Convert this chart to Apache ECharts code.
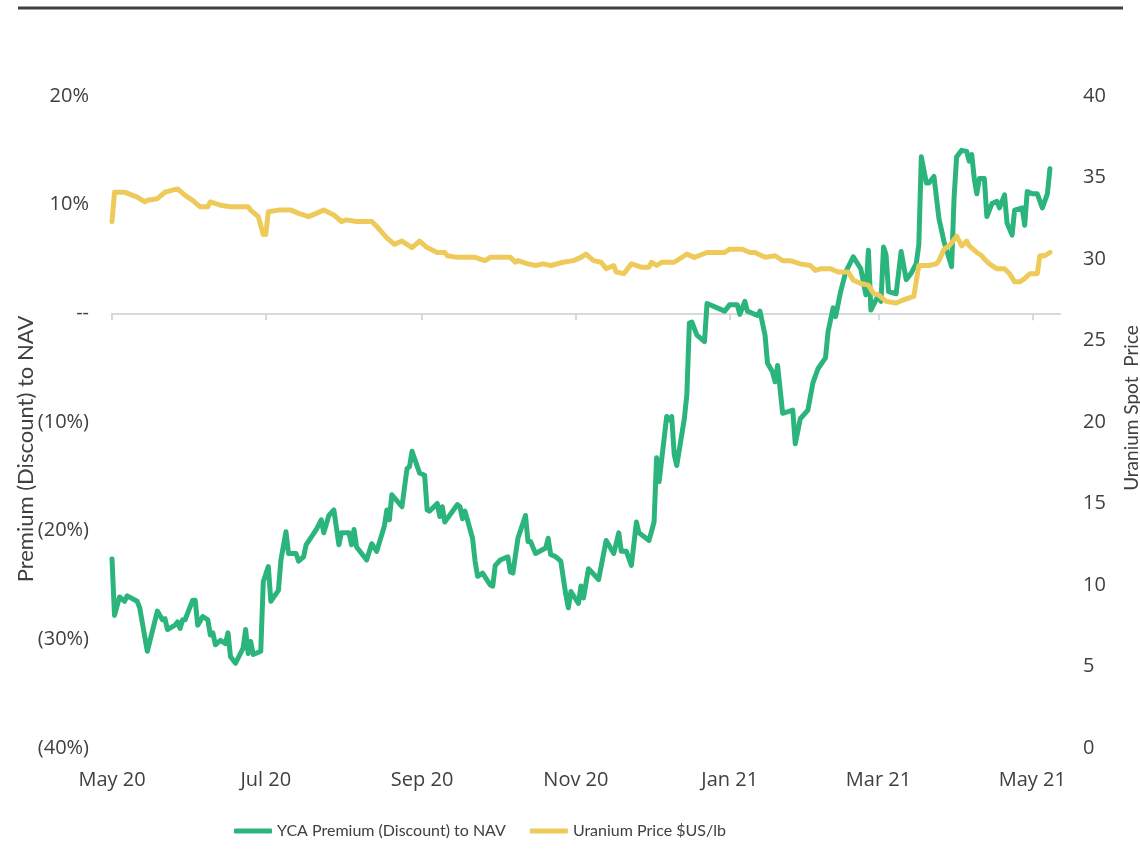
<!DOCTYPE html>
<html>
<head>
<meta charset="utf-8">
<script src="https://cdn.jsdelivr.net/npm/echarts@6/dist/echarts.min.js"></script>
<style>html,body{margin:0;padding:0;background:#fff}#chart{width:1140px;height:865px}</style>
</head>
<body>
<div id="chart"></div>
<script>
// ---- Data ----
const premiumDates = ['2020-05-01','2020-05-02','2020-05-04','2020-05-06','2020-05-07','2020-05-11','2020-05-12','2020-05-15','2020-05-19','2020-05-21','2020-05-22','2020-05-23','2020-05-26','2020-05-27','2020-05-28','2020-05-29','2020-05-30',
'2020-06-02','2020-06-03','2020-06-04','2020-06-06','2020-06-08','2020-06-09','2020-06-10','2020-06-11','2020-06-13','2020-06-15','2020-06-16','2020-06-17','2020-06-19','2020-06-22','2020-06-23','2020-06-24','2020-06-25','2020-06-26','2020-06-29','2020-06-30',
'2020-07-02','2020-07-03','2020-07-06','2020-07-07','2020-07-09','2020-07-10','2020-07-13','2020-07-14','2020-07-16','2020-07-17','2020-07-21','2020-07-23','2020-07-24','2020-07-26','2020-07-28','2020-07-30','2020-07-31',
'2020-08-03','2020-08-04','2020-08-05','2020-08-06','2020-08-10','2020-08-12','2020-08-14','2020-08-17','2020-08-18','2020-08-19','2020-08-20','2020-08-24','2020-08-26','2020-08-27','2020-08-28','2020-08-31',
'2020-09-02','2020-09-03','2020-09-04','2020-09-07','2020-09-08','2020-09-09','2020-09-10','2020-09-15','2020-09-16','2020-09-17','2020-09-18','2020-09-21','2020-09-22','2020-09-23','2020-09-25','2020-09-28','2020-09-29','2020-09-30',
'2020-10-02','2020-10-05','2020-10-06','2020-10-07','2020-10-09','2020-10-12','2020-10-13','2020-10-14','2020-10-16','2020-10-20','2020-10-21','2020-10-22','2020-10-24','2020-10-26','2020-10-28','2020-10-29','2020-10-30',
'2020-11-02','2020-11-03','2020-11-04','2020-11-06','2020-11-10','2020-11-13','2020-11-16','2020-11-18','2020-11-19','2020-11-21','2020-11-23','2020-11-25','2020-11-26','2020-11-30',
'2020-12-02','2020-12-03','2020-12-04','2020-12-07','2020-12-08','2020-12-09','2020-12-10','2020-12-11','2020-12-14','2020-12-15','2020-12-16','2020-12-17','2020-12-19','2020-12-22','2020-12-23','2020-12-30',
'2021-01-01','2021-01-04','2021-01-05','2021-01-07','2021-01-08','2021-01-12','2021-01-13','2021-01-15','2021-01-16','2021-01-18','2021-01-19','2021-01-20','2021-01-22','2021-01-26','2021-01-27','2021-01-29',
'2021-02-01','2021-02-03','2021-02-05','2021-02-08','2021-02-09','2021-02-11','2021-02-12','2021-02-14','2021-02-16','2021-02-19','2021-02-22','2021-02-24','2021-02-25','2021-02-26',
'2021-03-01','2021-03-02','2021-03-03','2021-03-04','2021-03-05','2021-03-08','2021-03-10','2021-03-12','2021-03-14','2021-03-16','2021-03-17','2021-03-18','2021-03-20','2021-03-21','2021-03-23','2021-03-25','2021-03-27','2021-03-30','2021-03-31',
'2021-04-01','2021-04-03','2021-04-05','2021-04-06','2021-04-07','2021-04-08','2021-04-09','2021-04-10','2021-04-12','2021-04-13','2021-04-15','2021-04-17','2021-04-18','2021-04-20','2021-04-21','2021-04-23','2021-04-24','2021-04-27','2021-04-28','2021-04-29',
'2021-05-01','2021-05-03','2021-05-05','2021-05-07','2021-05-08'];
const premiumValues = [-22.6,-27.8,-26.1,-26.5,-26.0,-26.5,-27.1,-31.1,-27.4,-28.2,-28.1,-29.1,-28.7,-28.4,-29.0,-28.2,-28.2,
-26.4,-26.4,-28.7,-27.9,-28.2,-29.6,-29.4,-30.5,-30.1,-30.4,-29.4,-31.6,-32.2,-30.8,-29.1,-31.3,-30.2,-31.4,-31.1,-24.7,
-23.3,-26.5,-25.5,-22.7,-20.1,-22.1,-22.1,-22.8,-22.4,-21.3,-19.9,-19.0,-20.2,-18.6,-18.1,-21.3,-20.2,
-20.2,-21.3,-19.9,-21.5,-22.7,-21.2,-21.9,-19.6,-18.1,-19.0,-16.7,-17.8,-14.3,-14.1,-12.7,-14.7,
-14.9,-18.1,-18.2,-17.5,-18.7,-17.8,-19.2,-17.6,-17.8,-18.9,-18.2,-20.7,-22.8,-24.2,-23.9,-25.0,-25.1,-23.2,
-22.7,-22.4,-23.8,-23.9,-20.7,-18.6,-21.0,-21.0,-22.1,-21.6,-20.7,-22.2,-22.4,-22.8,-25.9,-27.1,-25.6,
-26.7,-25.1,-26.2,-23.5,-24.5,-20.9,-22.1,-20.2,-21.9,-21.9,-23.2,-19.2,-20.2,-20.9,
-19.2,-13.3,-15.5,-9.5,-9.8,-9.5,-13.0,-14.0,-9.7,-7.5,-0.9,-0.8,-2.0,-2.6,0.9,0.2,
0.8,0.8,-0.1,1.1,0.2,-0.2,0.2,-2.0,-4.6,-5.4,-6.3,-4.8,-9.2,-8.9,-12.0,-9.7,
-8.9,-6.4,-5.1,-4.1,-1.7,0.5,-0.3,2.0,3.8,5.2,4.1,1.7,5.8,0.3,
1.7,1.1,6.1,5.4,2.0,1.8,5.7,3.1,3.7,4.6,6.3,14.4,12.0,12.0,12.6,8.7,6.6,4.3,10.7,
14.4,15.0,14.9,14.0,14.6,12.4,11.0,12.4,12.4,8.9,10.1,10.3,9.7,10.9,8.3,7.2,9.5,9.7,8.1,11.2,
11.0,11.0,9.7,11.0,13.3];

const uraniumDates = ['2020-05-01','2020-05-02','2020-05-06','2020-05-11','2020-05-14','2020-05-15','2020-05-19','2020-05-22','2020-05-27','2020-05-30',
'2020-06-02','2020-06-05','2020-06-08','2020-06-09','2020-06-13','2020-06-17','2020-06-24','2020-06-25','2020-06-28','2020-06-30',
'2020-07-01','2020-07-02','2020-07-06','2020-07-11','2020-07-14','2020-07-18','2020-07-21','2020-07-24','2020-07-28','2020-07-31',
'2020-08-02','2020-08-06','2020-08-12','2020-08-14','2020-08-18','2020-08-21','2020-08-24','2020-08-28','2020-08-31',
'2020-09-03','2020-09-07','2020-09-10','2020-09-11','2020-09-15','2020-09-19','2020-09-22','2020-09-26','2020-09-28',
'2020-10-06','2020-10-08','2020-10-09','2020-10-13','2020-10-16','2020-10-19','2020-10-22','2020-10-27','2020-10-31',
'2020-11-03','2020-11-05','2020-11-08','2020-11-11','2020-11-13','2020-11-16','2020-11-17','2020-11-20','2020-11-23','2020-11-27','2020-11-30',
'2020-12-01','2020-12-03','2020-12-05','2020-12-10','2020-12-12','2020-12-15','2020-12-18','2020-12-23','2020-12-30',
'2021-01-01','2021-01-06','2021-01-09','2021-01-11','2021-01-15','2021-01-19','2021-01-22','2021-01-25','2021-01-29',
'2021-02-02','2021-02-04','2021-02-06','2021-02-10','2021-02-13','2021-02-17','2021-02-19','2021-02-22','2021-02-25','2021-02-27',
'2021-03-01','2021-03-04','2021-03-08','2021-03-11','2021-03-15','2021-03-17','2021-03-21','2021-03-24','2021-03-25','2021-03-27','2021-03-29',
'2021-04-01','2021-04-03','2021-04-05','2021-04-06','2021-04-09','2021-04-11','2021-04-12','2021-04-14','2021-04-17','2021-04-20','2021-04-22','2021-04-24','2021-04-26','2021-04-28','2021-04-30',
'2021-05-03','2021-05-04','2021-05-06','2021-05-08'];
const uraniumValues = [32.3,34.1,34.1,33.8,33.5,33.6,33.7,34.1,34.3,33.9,
33.6,33.2,33.2,33.5,33.3,33.2,33.2,33.0,32.6,31.5,
31.5,32.9,33.0,33.0,32.8,32.6,32.8,33.0,32.7,32.3,
32.4,32.3,32.3,32.0,31.3,30.9,31.1,30.7,31.1,
30.7,30.4,30.4,30.2,30.1,30.1,30.1,29.9,30.1,
30.1,29.8,29.9,29.7,29.6,29.7,29.6,29.8,29.9,
30.1,30.3,29.9,29.8,29.4,29.6,29.2,29.1,29.7,29.5,29.5,
29.8,29.6,29.8,29.8,30.0,30.3,30.1,30.4,30.4,
30.6,30.6,30.4,30.4,30.1,30.2,29.9,29.9,29.7,
29.6,29.3,29.4,29.4,29.2,29.2,28.7,28.5,28.4,27.9,
27.8,27.4,27.3,27.5,27.7,29.6,29.6,29.7,29.9,30.6,30.8,
31.4,30.8,31.1,30.8,30.4,30.2,30.0,29.7,29.4,29.4,29.1,28.6,28.6,28.8,29.1,
29.1,30.2,30.2,30.4];

const tickDates = ['2020-05-01','2020-07-01','2020-09-01','2020-11-01','2021-01-01','2021-03-01','2021-05-01'];
const tickLabels = ['May 20','Jul 20','Sep 20','Nov 20','Jan 21','Mar 21','May 21'];
const axisStart = '2020-05-01';
const axisEnd = '2021-05-12';
const seriesNames = ['YCA Premium (Discount) to NAV', 'Uranium Price $US/lb'];

// ---- Build ----
function toTs(s){ const p = s.split('-').map(Number); return new Date(p[0], p[1]-1, p[2]).getTime(); }
const tickTs = tickDates.map(toTs);
const premiumData = premiumDates.map((d,i)=>[toTs(d), premiumValues[i]]);
const uraniumData = uraniumDates.map((d,i)=>[toTs(d), uraniumValues[i]]);

const TEXT = '#404040';
const chart = echarts.init(document.getElementById('chart'));
chart.setOption({
  animation: false,
  backgroundColor: '#ffffff',
  grid: { left: 112, right: 80, top: 96, bottom: 117, containLabel: false },
  graphic: [
    { type: 'line', shape: { x1: 18, y1: 8, x2: 1123, y2: 8 }, style: { stroke: '#404040', lineWidth: 3 } },
    { type: 'text', x: 26, y: 449, rotation: Math.PI/2,
      style: { text: 'Premium (Discount) to NAV', fill: TEXT, font: '22px Lato', textAlign: 'center', textVerticalAlign: 'middle' } },
    { type: 'text', x: 1132, y: 408, rotation: Math.PI/2,
      style: { text: 'Uranium Spot  Price', fill: TEXT, font: '19px Lato', textAlign: 'center', textVerticalAlign: 'middle' } }
  ],
  legend: {
    left: 234, top: 823, padding: 0,
    itemWidth: 38, itemHeight: 5, itemGap: 24,
    icon: 'roundRect',
    textStyle: { color: TEXT, fontFamily: 'Lato', fontSize: 16 },
    data: seriesNames
  },
  xAxis: [
    {
      type: 'value', min: toTs(axisStart), max: toTs(axisEnd),
      position: 'bottom',
      axisLine: { show: true, onZero: true, onZeroAxisIndex: 0, lineStyle: { color: '#D9D9D9', width: 2 } },
      axisTick: { show: true, customValues: tickTs, length: 7, lineStyle: { color: '#D9D9D9', width: 2 } },
      axisLabel: { show: false },
      splitLine: { show: false }
    },
    {
      type: 'value', min: toTs(axisStart), max: toTs(axisEnd),
      position: 'bottom',
      axisLine: { show: false, onZero: false },
      axisTick: { show: false },
      splitLine: { show: false },
      axisLabel: {
        show: true, customValues: tickTs, margin: 22,
        color: TEXT, fontFamily: 'Open Sans', fontSize: 20,
        hideOverlap: false,
        formatter: function (v) {
          const i = tickTs.indexOf(v);
          return i >= 0 ? tickLabels[i] : '';
        }
      }
    }
  ],
  yAxis: [
    {
      type: 'value', min: -40, max: 20, interval: 10, position: 'left',
      axisLine: { show: false }, axisTick: { show: false }, splitLine: { show: false },
      axisLabel: {
        color: TEXT, fontFamily: 'Open Sans', fontSize: 20, margin: 23,
        formatter: function (v) {
          if (v === 0) return '--';
          if (v < 0) return '(' + Math.abs(v) + '%)';
          return v + '%';
        }
      }
    },
    {
      type: 'value', min: 0, max: 40, interval: 5, position: 'right',
      axisLine: { show: false }, axisTick: { show: false }, splitLine: { show: false },
      axisLabel: { color: TEXT, fontFamily: 'Open Sans', fontSize: 20, margin: 23 }
    }
  ],
  series: [
    {
      name: seriesNames[0], type: 'line', xAxisIndex: 0, yAxisIndex: 0,
      data: premiumData, showSymbol: false, symbol: 'none',
      color: '#2BB47B',
      lineStyle: { width: 5, color: '#2BB47B', cap: 'round', join: 'round' }
    },
    {
      name: seriesNames[1], type: 'line', xAxisIndex: 0, yAxisIndex: 1,
      data: uraniumData, showSymbol: false, symbol: 'none',
      color: '#EECA5B',
      lineStyle: { width: 5, color: '#EECA5B', cap: 'round', join: 'round' }
    }
  ]
});
</script>
</body>
</html>
